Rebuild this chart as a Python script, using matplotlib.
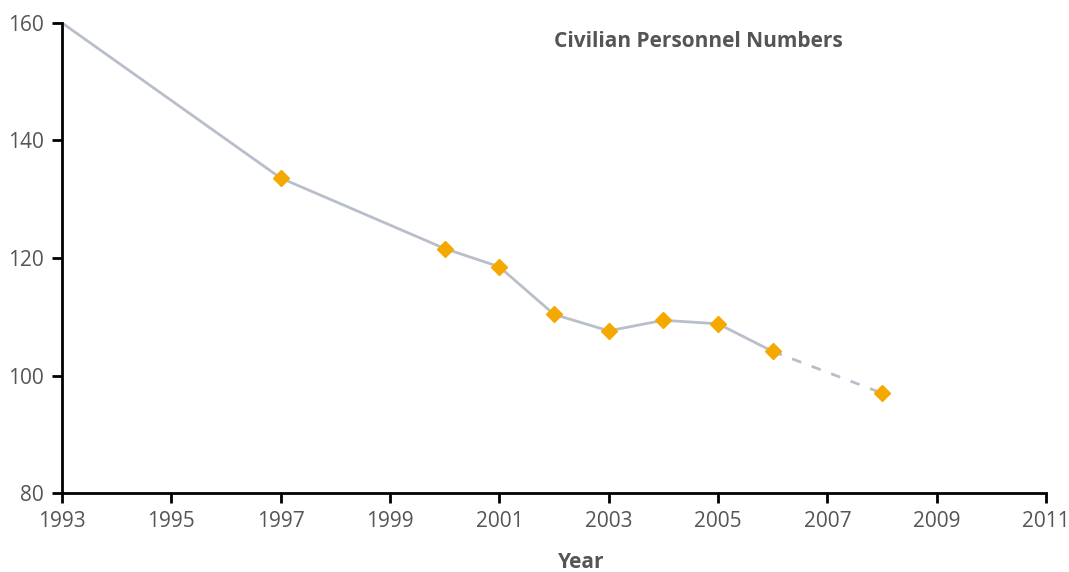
import matplotlib
matplotlib.use("Agg")
import matplotlib.pyplot as plt

plt.rcParams['font.family'] = ['Open Sans', 'DejaVu Sans']

# data
years = [1993, 1997, 2000, 2001, 2002, 2003, 2004, 2005, 2006]
personnel = [160, 133.6, 121.6, 118.5, 110.4, 107.6, 109.4, 108.8, 104.1]
proj_years = [2006, 2008]
proj_personnel = [104.1, 97.0]
xticks = list(range(1993, 2012, 2))
yticks = [80, 100, 120, 140, 160]

line_col = '#b9becb'
mark_col = '#f5a800'
text_col = '#555555'

fig = plt.figure(figsize=(10.69, 5.72), dpi=100)
ax = fig.add_axes([0.058, 0.138, 0.9205, 0.822])

ax.plot(years, personnel, color=line_col, lw=2, zorder=2)
ax.plot(proj_years, proj_personnel, color=line_col, lw=2, ls=(0, (3.5, 4)), zorder=2)
ax.plot(years[1:], personnel[1:], ls='none', marker='D', ms=8.5,
        color=mark_col, zorder=3)
ax.plot(proj_years[1:], proj_personnel[1:], ls='none', marker='D', ms=8.5,
        color=mark_col, zorder=3)

ax.set_xlim(1993, 2011)
ax.set_ylim(80, 160)
ax.set_xticks(xticks)
ax.set_yticks(yticks)
ax.spines['top'].set_visible(False)
ax.spines['right'].set_visible(False)
for s in ['left', 'bottom']:
    ax.spines[s].set_linewidth(2)
    ax.spines[s].set_color('black')
ax.tick_params(direction='out', length=7, width=2, labelsize=15,
               labelcolor=text_col, pad=6)

ax.set_xlabel('Year', fontsize=15, fontweight='bold', color=text_col)
ax.xaxis.set_label_coords(0.528, -0.147)
ax.xaxis.label.set_va('center')
ax.text(0.5, 0.96, 'Civilian Personnel Numbers', transform=ax.transAxes,
        fontsize=15, fontweight='bold', color=text_col, va='center')

fig.savefig('out.png', dpi=100)
